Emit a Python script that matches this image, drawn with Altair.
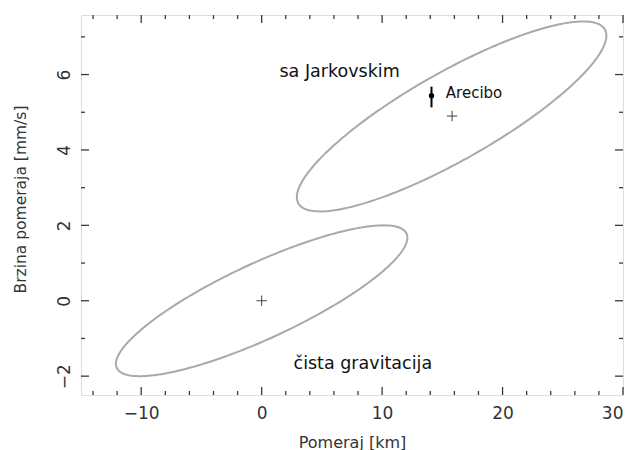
import altair as alt
import pandas as pd
import numpy as np

# ---- data ----
x_major = [-10, 0, 10, 20, 30]
x_minor = [-14, -12, -8, -6, -4, -2, 2, 4, 6, 8, 12, 14, 16, 18, 22, 24, 26, 28]
y_major = [-2, 0, 2, 4, 6]
y_minor = [-1, 1, 3, 5, 7]

ellipse_names = ["gravitacija", "jarkovski"]
ellipse_cx = [0.0, 15.77]
ellipse_cy = [0.0, 4.89]
ellipse_sx = [12.1, 12.85]
ellipse_sy = [2.0, 2.52]
ellipse_phase = [0.58, 0.555]

center_x = [0.0, 15.81]
center_y = [0.0, 4.90]

arecibo_x = [14.1]
arecibo_y = [5.44]
arecibo_lo = [5.13]
arecibo_hi = [5.68]

label_text = ["sa Jarkovskim", "čista gravitacija"]
label_x = [6.47, 8.4]
label_y = [5.93, -1.81]

arecibo_label = ["Arecibo"]
arecibo_label_x = [15.29]
arecibo_label_y = [5.38]

X_DOMAIN = [-15, 30]
Y_DOMAIN = [-2.5, 7.58]
W, H = 542, 380
FONT = "DejaVu Sans"
FRAME = "#3a3a3a"
TXT = "#333333"

# ---- tables ----
rows = []
t = np.linspace(0, 2 * np.pi, 241)
for n, cx, cy, sx, sy, ph in zip(ellipse_names, ellipse_cx, ellipse_cy,
                                 ellipse_sx, ellipse_sy, ellipse_phase):
    for i, tt in enumerate(t):
        rows.append({"e": n, "i": i,
                     "x": cx + sx * np.cos(tt),
                     "y": cy + sy * np.cos(tt - ph)})
ell_df = pd.DataFrame(rows)
cen_df = pd.DataFrame({"x": center_x, "y": center_y})
are_df = pd.DataFrame({"x": arecibo_x, "y": arecibo_y, "lo": arecibo_lo, "hi": arecibo_hi})
lab_df = pd.DataFrame({"x": label_x, "y": label_y, "t": label_text})
alab_df = pd.DataFrame({"x": arecibo_label_x, "y": arecibo_label_y, "t": arecibo_label})

xscale = alt.Scale(domain=X_DOMAIN, nice=False, zero=False)
yscale = alt.Scale(domain=Y_DOMAIN, nice=False, zero=False)

xaxis = alt.Axis(values=x_major, format="d", ticks=False, tickSize=0, domain=False,
                 grid=False, labelFontSize=17, labelColor=TXT, labelPadding=10,
                 labelFont=FONT, title="Pomeraj [km]", titleFont=FONT,
                 titleFontSize=16, titleFontWeight="normal", titleColor=TXT,
                 titleBaseline="alphabetic", titleY=52)
yaxis = alt.Axis(values=y_major, format="d", ticks=False, tickSize=0, domain=False,
                 grid=False, labelFontSize=17, labelColor=TXT, labelPadding=12,
                 labelAngle=-90, labelAlign="center", labelBaseline="alphabetic",
                 labelFont=FONT, title="Brzina pomeraja [mm/s]", titleFont=FONT,
                 titleFontSize=15.5, titleFontWeight="normal", titleColor=TXT,
                 titleBaseline="alphabetic", titleAngle=-90, titleX=-56, titleY=184,
                 titleAlign="center")


def X(f):
    return alt.X(f, type="quantitative", scale=xscale, axis=xaxis)


def Y(f):
    return alt.Y(f, type="quantitative", scale=yscale, axis=yaxis)


ellipses = alt.Chart(ell_df).mark_line(color="#a9a9a9", strokeWidth=2).encode(
    x=X("x"), y=Y("y"), detail="e:N", order="i:Q")

pluses = alt.Chart(cen_df).mark_point(
    shape="M-1,0L1,0M0,-1L0,1", size=110, filled=False, stroke="#444", strokeWidth=1,
    opacity=1).encode(x=X("x"), y=Y("y"))

err = alt.Chart(are_df).mark_rule(color="black", strokeWidth=2).encode(
    x=X("x"), y=Y("lo"), y2="hi")
dot = alt.Chart(are_df).mark_point(shape="circle", filled=True, size=28, color="black",
                                   opacity=1).encode(x=X("x"), y=Y("y"))

labels = alt.Chart(lab_df).mark_text(font=FONT, fontSize=17.5, align="center",
                                     baseline="alphabetic", color="#111").encode(
    x=X("x"), y=Y("y"), text="t:N")
alabel = alt.Chart(alab_df).mark_text(font=FONT, fontSize=15, align="left",
                                      baseline="alphabetic", color="#111").encode(
    x=X("x"), y=Y("y"), text="t:N")

# inward tick marks on all four sides
tick_layers = []
for vals, ln in ((x_major, 8), (x_minor, 4)):
    d = pd.DataFrame({"v": vals})
    tick_layers.append(alt.Chart(d).mark_rule(color=FRAME, strokeWidth=1.3).encode(
        x=X("v"), y=alt.value(H), y2=alt.value(H - ln)))
    tick_layers.append(alt.Chart(d).mark_rule(color=FRAME, strokeWidth=1.3).encode(
        x=X("v"), y=alt.value(0), y2=alt.value(ln)))
for vals, ln in ((y_major, 8), (y_minor, 4)):
    d = pd.DataFrame({"v": vals})
    tick_layers.append(alt.Chart(d).mark_rule(color=FRAME, strokeWidth=1.3).encode(
        y=Y("v"), x=alt.value(0), x2=alt.value(ln)))
    tick_layers.append(alt.Chart(d).mark_rule(color=FRAME, strokeWidth=1.3).encode(
        y=Y("v"), x=alt.value(W), x2=alt.value(W - ln)))

chart = alt.layer(ellipses, *tick_layers, pluses, err, dot, labels, alabel).properties(
    width=W, height=H,
    autosize=alt.AutoSizeParams(type="none"),
    padding={"left": 73, "top": 7, "right": 3, "bottom": 60},
).configure_view(stroke=FRAME, strokeWidth=2).configure(background="white")

chart.save("out.html", embed_options={"renderer": "svg", "actions": False})
